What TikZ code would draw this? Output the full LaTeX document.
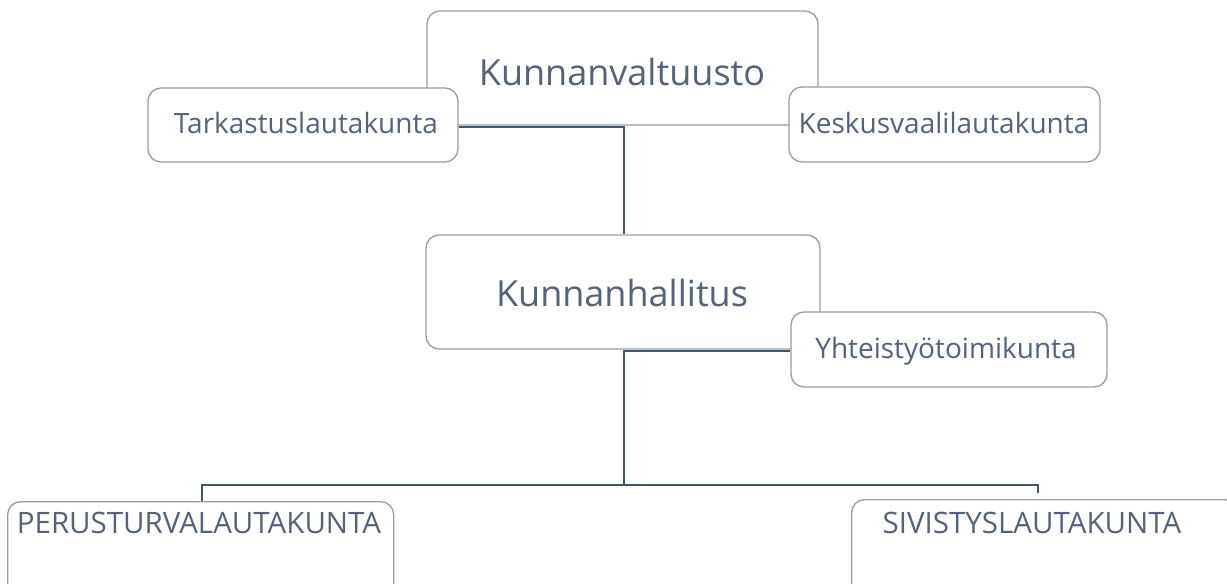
\documentclass[tikz,border=0pt]{standalone}
\usepackage{fontspec}
\setmainfont{Open Sans}
\definecolor{txt}{HTML}{55637A}
\definecolor{edge}{HTML}{9C9C9C}
\definecolor{conn}{HTML}{44546A}
\begin{document}
\begin{tikzpicture}[x=1pt,y=-1pt,
  box/.style={draw=edge, line width=1.3pt, fill=white, rounded corners=13pt, inner sep=0pt},
  big/.style={text=txt, font=\fontsize{36}{42}\selectfont, inner sep=0pt},
  small/.style={text=txt, font=\fontsize{28}{34}\selectfont, inner sep=0pt},
  caps/.style={text=txt, font=\fontsize{29.5}{35}\selectfont, inner sep=0pt},
  link/.style={draw=conn, line width=2pt}]
\useasboundingbox (0,0) rectangle (1227,584);
% top
\node[box, minimum width=391pt, minimum height=114pt] (valt) at (622.5,68) {};
\node[big] (valttext) at (622,72) {Kunnanvaltuusto};
\coordinate (j1) at (624,127);
\node[box, minimum width=310pt, minimum height=74pt] (tark) at (303,125) {};
\node[small] (tarktext) at (306,123) {Tarkastuslautakunta};
\node[box, minimum width=311pt, minimum height=75pt] (kesk) at (944.5,124.5) {};
\node[small] (kesktext) at (944,123) {Keskusvaalilautakunta};
% middle
\node[box, minimum width=394pt, minimum height=114pt] (hall) at (623,292) {};
\node[big] (halltext) at (622,293) {Kunnanhallitus};
\draw[link] (tark.east |- j1) -- (j1) -- (j1 |- hall.north);
\node[box, minimum width=316pt, minimum height=75pt] (yht) at (949,349.5) {};
\node[small] (yhttext) at (946,351) {Yhteistyötoimikunta};
\coordinate (j2) at (624,351);
\coordinate (j3) at (624,485);
\draw[link] (yht.west |- j2) -- (j2) -- (j3);
% bottom
\node[box, minimum width=386pt, minimum height=120pt, anchor=north west] (perus) at (7,501) {};
\node[caps] (perustext) at (199,523) {PERUSTURVALAUTAKUNTA};
\node[box, minimum width=386pt, minimum height=120pt, anchor=north west] (sivis) at (851,499) {};
\node[caps] (sivistext) at (1032,523) {SIVISTYSLAUTAKUNTA};
\coordinate (bl) at (202,485);
\coordinate (br) at (1038,485);
\draw[link, line width=1.8pt] (bl |- perus.north) -- (bl) -- (br) -- ++(0,8);
\end{tikzpicture}
\end{document}
